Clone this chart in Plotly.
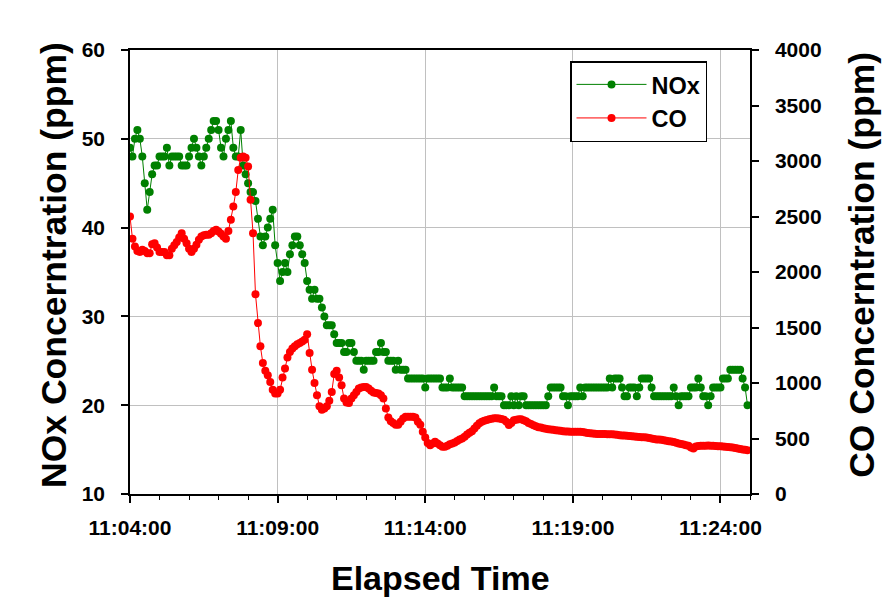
import pandas as pd
import plotly.graph_objects as go

# Sampling: every 5 s starting 11:04:00 (one row = one minute)
start_time = "2000-01-01 11:04:00"
sample_step = "5s"

nox_ppm = [
    49, 48, 50, 51, 50, 48, 45, 42, 44, 46, 47, 47,
    48, 48, 48, 49, 47, 48, 48, 48, 48, 47, 47, 47,
    48, 49, 50, 49, 48, 47, 48, 49, 50, 51, 52, 52,
    51, 49, 48, 50, 51, 52, 49, 48, 48, 51, 47, 46,
    45, 44, 44, 43, 41, 39, 38, 39, 40, 41, 42, 38,
    36, 34, 35, 36, 35, 37, 38, 39, 39, 38, 37, 36,
    34, 33, 32, 33, 32, 32, 31, 30, 29, 29, 29, 28,
    27, 27, 27, 26, 26, 27, 27, 26, 25, 25, 25, 24,
    25, 25, 25, 25, 26, 26, 27, 26, 26, 25, 25, 25,
    24, 25, 24, 24, 24, 23, 23, 23, 23, 23, 23, 23,
    22, 23, 23, 23, 23, 23, 23, 22, 22, 22, 23, 22,
    22, 22, 22, 22, 21, 21, 21, 21, 21, 21, 21, 21,
    21, 21, 21, 21, 22, 21, 21, 21, 20, 20, 20, 21,
    20, 21, 20, 21, 21, 20, 20, 20, 20, 20, 20, 20,
    20, 20, 21, 22, 22, 22, 22, 22, 21, 21, 20, 21,
    21, 21, 21, 22, 21, 22, 22, 22, 22, 22, 22, 22,
    22, 22, 22, 23, 22, 23, 23, 23, 22, 21, 21, 22,
    22, 22, 21, 22, 23, 23, 23, 23, 22, 21, 21, 21,
    21, 21, 21, 21, 21, 22, 21, 20, 21, 21, 21, 21,
    22, 22, 22, 23, 22, 21, 21, 20, 21, 22, 22, 22,
    22, 23, 23, 23, 24, 24, 24, 24, 24, 23, 22, 20,
]

co_ppm = [
    2500, 2300, 2230, 2190, 2180, 2200, 2190, 2170, 2170, 2250, 2260, 2220,
    2180, 2180, 2180, 2150, 2150, 2210, 2240, 2270, 2310, 2350, 2300, 2260,
    2210, 2180, 2210, 2245, 2290, 2320, 2330, 2335, 2335, 2350, 2370, 2380,
    2365, 2345, 2320, 2300, 2370, 2470, 2590, 2720, 2920, 3030, 3040, 3030,
    2950, 2650, 2350, 1800, 1540, 1330, 1180, 1110, 1070, 1010, 940, 905,
    905, 940, 1050, 1130, 1230, 1280, 1310, 1330, 1350, 1360, 1375, 1390,
    1440, 1270, 1120, 1000, 890, 790, 760, 770, 790, 840, 920, 1080,
    1110, 1050, 980, 860, 825, 820, 860, 890, 920, 950, 960, 965,
    965, 950, 930, 915, 910, 905, 890, 860, 770, 690, 655, 640,
    625, 625, 650, 680, 695, 697, 697, 697, 690, 650, 625, 560,
    510, 460, 440, 455, 470, 455, 440, 425, 425, 435, 448, 456,
    465, 478, 490, 500, 515, 535, 552, 565, 590, 615, 637, 650,
    660, 667, 673, 678, 682, 682, 680, 675, 668, 650, 622, 640,
    665, 670, 673, 673, 665, 655, 640, 630, 620, 610, 602, 598,
    592, 588, 584, 582, 578, 575, 572, 570, 566, 564, 562, 561,
    561, 561, 561, 560, 558, 555, 550, 547, 545, 543, 541, 540,
    540, 540, 539, 538, 538, 536, 533, 530, 528, 526, 524, 522,
    520, 518, 516, 514, 512, 511, 510, 505, 500, 495, 492, 490,
    488, 485, 480, 476, 472, 468, 462, 456, 450, 446, 440, 435,
    420, 410, 428, 432, 434, 435, 435, 436, 435, 435, 433, 431,
    430, 428, 425, 423, 421, 418, 414, 410, 406, 402, 398, 395,
]

x_tick_labels = ["11:04:00", "11:09:00", "11:14:00", "11:19:00", "11:24:00"]
x_range = ["2000-01-01 11:04:00", "2000-01-01 11:25:00"]

times = pd.date_range(start_time, periods=len(nox_ppm), freq=sample_step)
tick_vals = [pd.Timestamp("2000-01-01 " + t) for t in x_tick_labels]

FONT = "Liberation Sans, Arial, sans-serif"
GREEN = "#008000"
RED = "#ff0000"

fig = go.Figure()
fig.add_trace(go.Scatter(
    x=times, y=nox_ppm, name="NOx", mode="lines+markers",
    line=dict(color=GREEN, width=1), marker=dict(color=GREEN, size=8),
    yaxis="y",
))
fig.add_trace(go.Scatter(
    x=times, y=co_ppm, name="CO", mode="lines+markers",
    line=dict(color=RED, width=1), marker=dict(color=RED, size=8),
    yaxis="y2",
))

tickfont = dict(family=FONT, size=21, color="black", weight="bold")
ytitlefont = dict(family=FONT, size=35.5, color="black", weight="bold")
xtitlefont = dict(family=FONT, size=34, color="black", weight="bold")

fig.update_layout(
    width=891, height=616,
    margin=dict(l=130, r=141, t=50, b=122),
    paper_bgcolor="white", plot_bgcolor="white",
    showlegend=True,
    legend=dict(
        x=0.7097, y=0.975, xanchor="left", yanchor="top",
        bgcolor="white", bordercolor="black", borderwidth=1.5,
        font=dict(family=FONT, size=23.5, color="black", weight="bold"),
        tracegroupgap=0, itemwidth=70,
    ),
    xaxis=dict(
        type="date", range=x_range,
        tickvals=tick_vals, ticktext=x_tick_labels,
        tickfont=tickfont, ticks="outside", ticklen=7, tickwidth=1.5,
        tickcolor="black", ticklabelstandoff=7,
        minor=dict(dtick=60000, ticks="outside", ticklen=4, tickwidth=1,
                   tickcolor="black", showgrid=False),
        showgrid=True, gridcolor="#c0c0c0", gridwidth=1,
        showline=True, linecolor="black", linewidth=1.5, mirror=True,
        zeroline=False, automargin=False,
    ),
    yaxis=dict(
        range=[10, 60], dtick=10, tick0=10,
        tickfont=tickfont, ticks="outside", ticklen=7, tickwidth=1.5,
        tickcolor="black", ticklabelstandoff=12,
        showgrid=True, gridcolor="#c0c0c0", gridwidth=1,
        showline=True, linecolor="black", linewidth=1.5,
        zeroline=False, automargin=False,
    ),
    yaxis2=dict(
        range=[0, 4000], dtick=500, tick0=0,
        overlaying="y", side="right",
        tickfont=tickfont, ticks="outside", ticklen=7, tickwidth=1.5,
        tickcolor="black", ticklabelstandoff=12,
        showgrid=False,
        showline=True, linecolor="black", linewidth=1.5,
        zeroline=False, automargin=False,
    ),
    annotations=[
        dict(text="NOx Concerntration (ppm)", xref="paper", yref="paper",
             x=-0.1226, y=0.516, xanchor="center", yanchor="middle",
             textangle=-90, showarrow=False, font=ytitlefont),
        dict(text="CO Concerntration (ppm)", xref="paper", yref="paper",
             x=1.1806, y=0.516, xanchor="center", yanchor="middle",
             textangle=-90, showarrow=False, font=ytitlefont),
        dict(text="Elapsed Time", xref="paper", yref="paper",
             x=0.5, y=-0.189, xanchor="center", yanchor="middle",
             showarrow=False, font=xtitlefont),
    ],
)

fig.write_html("out.html")
